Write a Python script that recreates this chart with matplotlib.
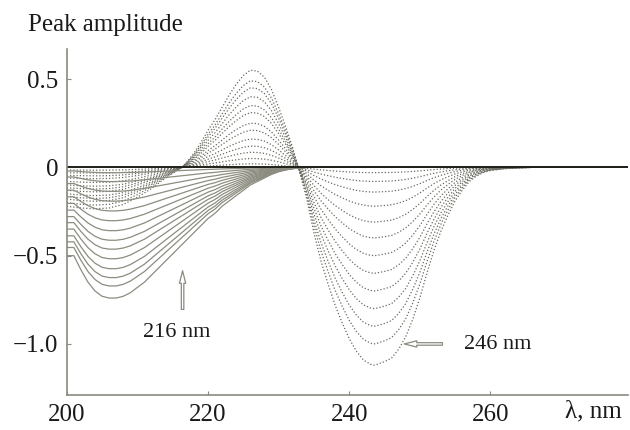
import matplotlib
matplotlib.use("Agg")
import matplotlib.pyplot as plt
import numpy as np

# deepest solid curve (nm, amplitude)
solid_x = [200, 201, 202, 203, 204, 205, 206, 207, 208, 209, 210, 211, 212, 213,
           214, 215, 216, 217, 218, 219, 220, 221, 222, 223, 224, 225, 226, 227,
           228, 229, 230, 231, 232, 233, 234, 240, 260, 279.5]
solid_y = [-0.50, -0.50, -0.58, -0.65, -0.70, -0.73, -0.74, -0.74, -0.73, -0.71,
           -0.68, -0.65, -0.61, -0.57, -0.53, -0.49, -0.45, -0.41, -0.37, -0.33,
           -0.29, -0.26, -0.22, -0.19, -0.16, -0.13, -0.10, -0.08, -0.06, -0.04,
           -0.025, -0.015, -0.008, -0.003, 0.0, 0.0, 0.0, 0.0]
# minimum of every solid curve near 207 nm
solid_min = [-0.735, -0.667, -0.62, -0.57, -0.514, -0.46, -0.41, -0.356,
             -0.30, -0.245, -0.19, -0.135, -0.08, -0.03]

# largest dotted curve
dot_x = [200, 202, 204, 206, 208, 210, 212, 214, 216.3, 217, 218, 219, 220, 221,
         222, 223, 224, 225, 226, 227, 228, 229, 230, 231, 232, 232.8, 233, 234,
         235, 236, 237, 238, 239, 240, 241, 242, 243, 243.5, 244, 245, 246, 247,
         248, 249, 250, 251, 252, 253, 254, 255, 256, 257, 258, 259, 260, 262,
         264, 266, 279.5]
dot_y = [-0.22, -0.23, -0.235, -0.23, -0.21, -0.17, -0.12, -0.06, 0.0, 0.03,
         0.08, 0.14, 0.21, 0.27, 0.34, 0.41, 0.47, 0.52, 0.55, 0.545, 0.51, 0.44,
         0.34, 0.23, 0.11, 0.0, -0.03, -0.18, -0.37, -0.53, -0.66, -0.78, -0.88,
         -0.97, -1.04, -1.09, -1.115, -1.12, -1.115, -1.10, -1.08, -1.03, -0.96,
         -0.86, -0.74, -0.60, -0.47, -0.36, -0.27, -0.19, -0.13, -0.08, -0.05,
         -0.03, -0.018, -0.008, -0.003, 0.0, 0.0]
# per dotted curve: value at 200 nm, peak near 226 nm, trough near 243 nm
dot_left = [-0.22, -0.20, -0.18, -0.165, -0.15, -0.13, -0.115, -0.10, -0.08,
            -0.06, -0.045, -0.03, -0.015]
dot_peak = [0.55, 0.49, 0.45, 0.40, 0.35, 0.31, 0.25, 0.21, 0.16, 0.12, 0.085,
            0.05, 0.02]
dot_trough = [-1.12, -1.0, -0.9, -0.8, -0.7, -0.6, -0.5, -0.4, -0.31, -0.22,
              -0.14, -0.08, -0.03]

yticks = [-1.0, -0.5, 0, 0.5]
ytick_labels = ["\u22121.0", "\u22120.5", "0", "0.5"]
xticks = [200, 220, 240, 260]

plt.rcParams['font.family'] = ['Liberation Serif', 'DejaVu Serif']

fig = plt.figure(figsize=(6.3, 4.3), dpi=100)
ax = fig.add_axes([0.106, 0.081, 0.891, 0.805])

gray = '#8a8a80'
sx = np.array(solid_x)
sy = np.array(solid_y)
dx = np.array(dot_x)
dy = np.array(dot_y)

for lft, pk, tr in zip(dot_left, dot_peak, dot_trough):
    y = np.where(dx < 216.3, dy * lft / dot_left[0],
                 np.where(dx <= 232.8, dy * pk / dot_peak[0], dy * tr / dot_trough[0]))
    ax.plot(dx, y, color='#6a6a60', lw=0.9, ls=(0, (1, 1.6)))

for m in solid_min:
    ax.plot(sx, sy * m / solid_min[0], color='#8c8c80', lw=0.9)

ax.plot([200, 279.5], [0, 0], color='#202018', lw=1.4)

ax.set_xlim(200, 279.5)
ax.set_ylim(-1.29, 0.67)
for s in ['top', 'right']:
    ax.spines[s].set_visible(False)
for s in ['left', 'bottom']:
    ax.spines[s].set_color(gray)
    ax.spines[s].set_linewidth(1.2)
ax.set_xticks(xticks)
ax.set_yticks(yticks)
ax.set_yticklabels(ytick_labels)
ax.tick_params(direction='in', length=3, color=gray, labelsize=18,
               labelcolor='#1a1a1a', pad=6)

fig.text(0.044, 0.942, "Peak amplitude", fontsize=18, color='#1a1a1a', va='center')
fig.text(0.897, 0.043, "\u03bb, nm", fontsize=18, color='#1a1a1a', va='center')

ax.annotate("", xy=(216.4, -0.57), xytext=(216.4, -0.82),
            arrowprops=dict(arrowstyle="simple,head_length=0.9,head_width=0.45,tail_width=0.18",
                            fc='white', ec=gray, lw=0.9))
ax.text(215.5, -0.935, "216 nm", fontsize=16, ha='center', va='center', color='#1a1a1a')
ax.annotate("", xy=(247.4, -1.0), xytext=(253.6, -1.0),
            arrowprops=dict(arrowstyle="simple,head_length=0.9,head_width=0.45,tail_width=0.18",
                            fc='white', ec=gray, lw=0.9))
ax.text(256.2, -1.005, "246 nm", fontsize=16, ha='left', va='center', color='#1a1a1a')

fig.savefig("out.png", dpi=100)
